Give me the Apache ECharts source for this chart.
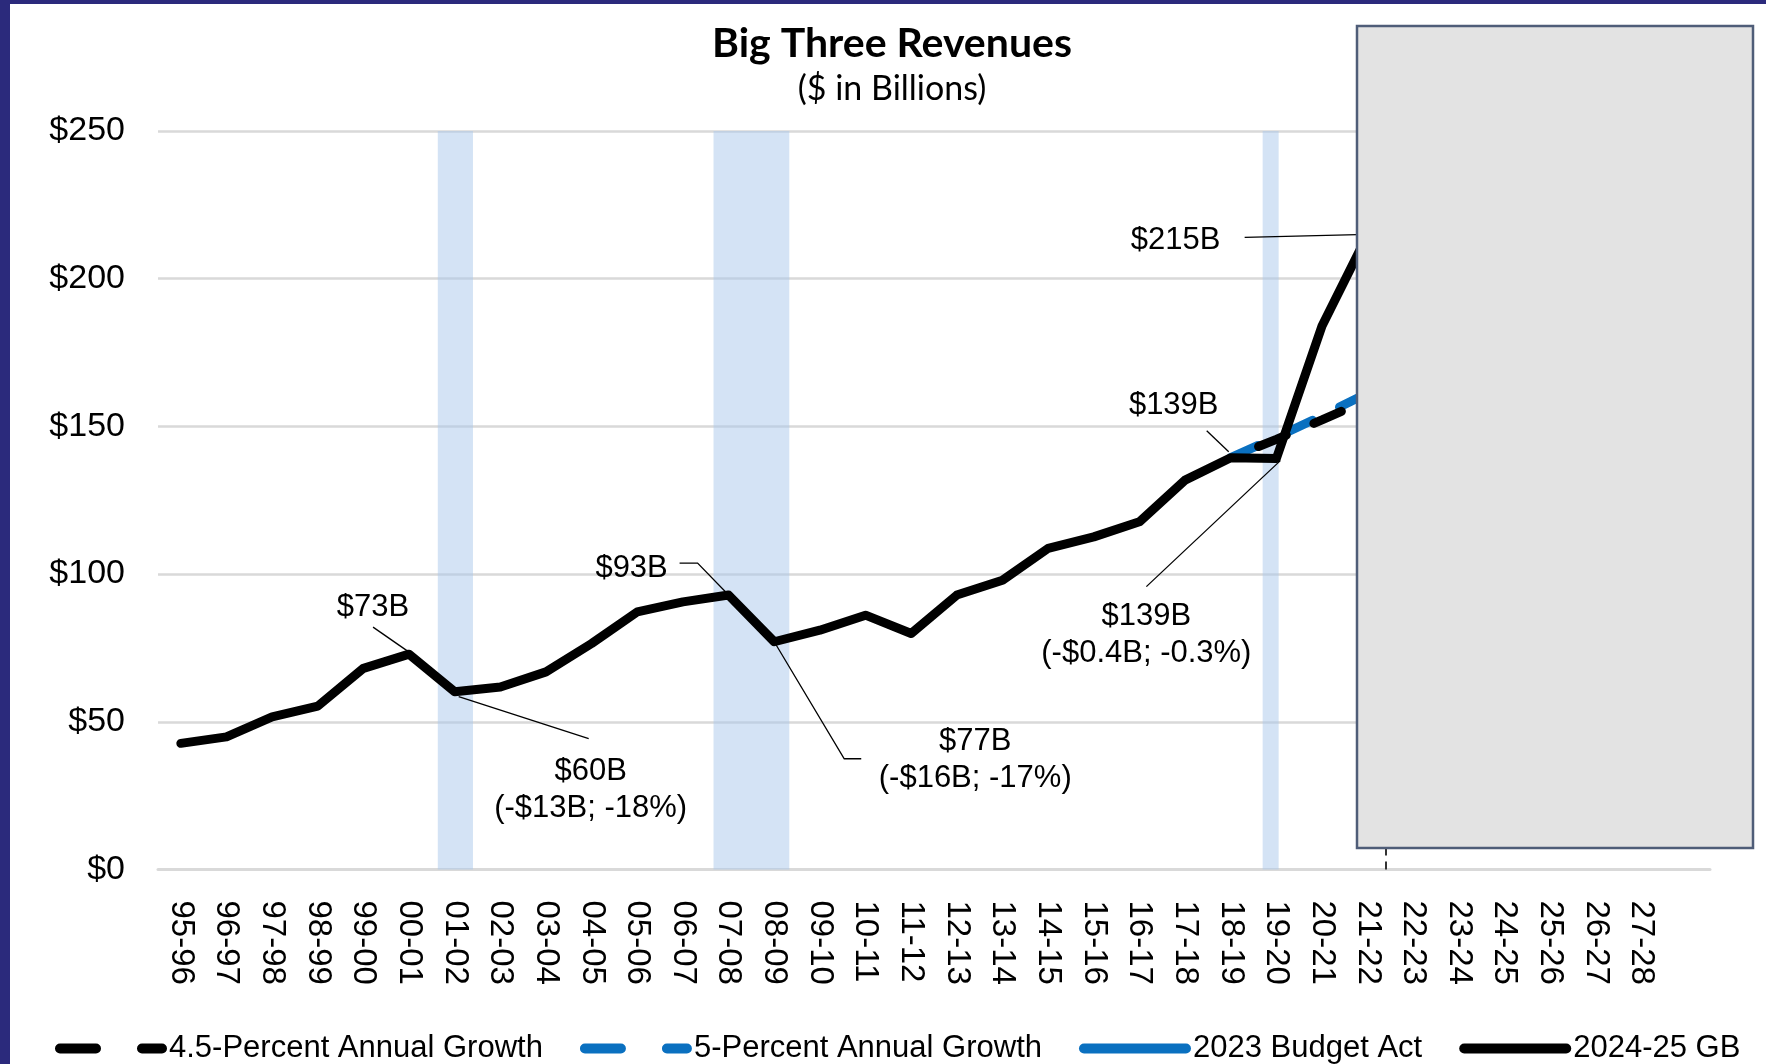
<!DOCTYPE html>
<html>
<head>
<meta charset="utf-8">
<title>Big Three Revenues</title>
<script src="https://cdn.jsdelivr.net/npm/echarts@6/dist/echarts.min.js"></script>
<style>
  html, body { margin: 0; padding: 0; background: #fff; }
  #chart { width: 1766px; height: 1064px; }
</style>
</head>
<body>
<div id="chart"></div>
<script>
// fiscal years on the x axis
const years = ['95-96', '96-97', '97-98', '98-99', '99-00', '00-01', '01-02', '02-03', '03-04',
  '04-05', '05-06', '06-07', '07-08', '08-09', '09-10', '10-11', '11-12', '12-13', '13-14',
  '14-15', '15-16', '16-17', '17-18', '18-19', '19-20', '20-21', '21-22', '22-23', '23-24',
  '24-25', '25-26', '26-27', '27-28'];

// Big Three revenues ($ in billions), 2024-25 GB line, visible part
const revenues = [42.7, 44.9, 51.7, 55.3, 68.1, 72.9, 60.2, 61.8, 66.9, 76.5, 87.2, 90.6,
  92.9, 77.1, 81.0, 86.1, 79.9, 92.9, 97.9, 108.7, 112.6, 117.7, 131.8, 139.4, 139.1, 184.0, 215.0];

// growth paths, starting at 18-19
const growthStart = '18-19';
const growth45 = [139.4, 145.6, 152.2, 159.0];
const growth5 = [139.4, 146.3, 153.6, 161.3];
// 2023 Budget Act is under the grey cover, nothing visible
const budgetAct = [];

// recession shading, in category index units (0 = 95-96)
const recessions = [[5.63, 6.40], [11.67, 13.33], [23.70, 24.05]];
// dashed marker between 21-22 and 22-23
const forecastLine = 26.4;

// callout text per year
const callouts = {
  '00-01': '$73B',
  '01-02': '$60B\n(-$13B; -18%)',
  '07-08': '$93B',
  '08-09': '$77B\n(-$16B; -17%)',
  '18-19': '$139B',
  '19-20': '$139B\n(-$0.4B; -0.3%)',
  '21-22': '$215B'
};
// where each callout sits relative to its point (px)
const calloutOffsets = {
  '00-01': [-36, -47],
  '01-02': [136, 98],
  '07-08': [-97, -27],
  '08-09': [201, 118],
  '18-19': [-57, -52],
  '19-20': [-130, 176],
  '21-22': [-192, 6]
};
// leader line paths relative to the point (px)
const leaderPaths = {
  '00-01': [[0, -2], [-36, -27]],
  '01-02': [[4, 5], [134, 47]],
  '07-08': [[0, 0], [-31, -32], [-49, -32]],
  '08-09': [[0, 0], [70, 117], [87, 117]],
  '18-19': [[-2, -6], [-24, -27]],
  '19-20': [[4, 2], [-130, 128]],
  '21-22': [[0, 0], [-123, 3]]
};

const axisYears = years.concat(['']);   // one empty slot at the right end

function fromYear(start, vals) {
  const out = axisYears.map(() => null);
  const i0 = years.indexOf(start);
  vals.forEach((v, k) => { out[i0 + k] = v; });
  return out;
}

const revenueData = revenues.map((v, i) => {
  const t = callouts[years[i]];
  return t ? { value: v, label: { show: true, formatter: t } } : v;
});

const font = 'Liberation Sans, Arial, sans-serif';
const blue = '#0a70c0';
const dashIcon = 'path://M5,0H41A5,5,0,0,1,41,10H5A5,5,0,0,1,5,0Z M87,0H107A5,5,0,0,1,107,10H87A5,5,0,0,1,87,0Z';
const solidIcon = 'path://M5,0H107A5,5,0,0,1,107,10H5A5,5,0,0,1,5,0Z';

const chart = echarts.init(document.getElementById('chart'));

chart.setOption({
  animation: false,
  backgroundColor: '#fff',
  textStyle: { fontFamily: font, color: '#000' },
  title: [{
    text: 'Big Three Revenues',
    left: 887, top: 18, textAlign: 'center',
    textStyle: { fontFamily: 'Lato', fontWeight: 'bold', fontSize: 41, color: '#000' }
  }, {
    text: '($ in Billions)',
    left: 887, top: 67, textAlign: 'center',
    textStyle: { fontFamily: 'Lato', fontWeight: 'normal', fontSize: 34, color: '#000' }
  }],
  grid: { left: 158, right: 56, top: 131, bottom: 194.5, containLabel: false },
  legend: {
    data: [
      { name: '4.5-Percent Annual Growth', icon: dashIcon },
      { name: '5-Percent Annual Growth', icon: dashIcon },
      { name: '2023 Budget Act', icon: solidIcon },
      { name: '2024-25 GB', icon: solidIcon }
    ],
    left: 55, top: 1033, padding: 0,
    itemWidth: 112, itemHeight: 10, itemGap: 37,
    textStyle: { fontFamily: font, fontSize: 31, color: '#000', padding: [0, 0, 0, -3] }
  },
  xAxis: [{
    type: 'category',
    data: axisYears,
    boundaryGap: true,
    axisTick: { show: false },
    axisLine: { lineStyle: { color: '#d9d9d9', width: 3 } },
    axisLabel: { interval: 0, rotate: -90, margin: 31, fontSize: 33, color: '#000', fontFamily: font }
  }, {
    type: 'value', min: -0.5, max: 33.5, show: false
  }],
  yAxis: {
    type: 'value', min: 0, max: 250, interval: 50,
    axisLine: { show: false }, axisTick: { show: false },
    splitLine: { lineStyle: { color: '#d9d9d9', width: 2.5 } },
    axisLabel: { formatter: '${value}', fontSize: 34, margin: 33, color: '#000', fontFamily: font }
  },
  series: [{
    name: 'shade', type: 'line', xAxisIndex: 1, data: [], silent: true,
    markArea: {
      silent: true,
      itemStyle: { color: 'rgba(170,200,235,0.5)' },
      data: recessions.map(r => [{ xAxis: r[0] }, { xAxis: r[1] }])
    },
    markLine: {
      silent: true, symbol: 'none',
      label: { show: false },
      lineStyle: { color: '#333', type: [8, 6], width: 2 },
      data: [{ xAxis: forecastLine }]
    }
  }, {
    name: '2023 Budget Act', type: 'line', data: fromYear(growthStart, budgetAct),
    showSymbol: false,
    lineStyle: { color: blue, width: 9 }, itemStyle: { color: blue }
  }, {
    name: '5-Percent Annual Growth', type: 'line', data: fromYear(growthStart, growth5),
    showSymbol: false, symbol: 'none',
    lineStyle: { color: blue, width: 9, type: [30, 30], cap: 'round' },
    itemStyle: { color: blue }
  }, {
    name: '4.5-Percent Annual Growth', type: 'line', data: fromYear(growthStart, growth45),
    showSymbol: false, symbol: 'none',
    lineStyle: { color: '#000', width: 9, type: [30, 30], dashOffset: 30, cap: 'round' },
    itemStyle: { color: '#000' }
  }, {
    name: '2024-25 GB', type: 'line', data: revenueData,
    symbol: 'circle', symbolSize: 1, showSymbol: true, showAllSymbol: true,
    itemStyle: { color: '#000' },
    lineStyle: { color: '#000', width: 9, join: 'round', cap: 'round' },
    emphasis: { disabled: true },
    label: { show: false, fontSize: 31, lineHeight: 37, color: '#000', fontFamily: font },
    labelLayout: function (p) {
      const off = calloutOffsets[years[p.dataIndex]];
      if (!off) return {};
      return {
        x: p.rect.x + p.rect.width / 2 + off[0],
        y: p.rect.y + p.rect.height / 2 + off[1],
        align: 'center', verticalAlign: 'middle'
      };
    },
    z: 5
  }]
});

// leader lines, anchored on the data points
const leaders = Object.keys(leaderPaths).map(y => {
  const i = years.indexOf(y);
  const p = chart.convertToPixel({ xAxisIndex: 0, yAxisIndex: 0 }, [y, revenues[i]]);
  return {
    type: 'polyline', z: 50, silent: true,
    shape: { points: leaderPaths[y].map(o => [p[0] + o[0], p[1] + o[1]]) },
    style: { stroke: '#000', lineWidth: 1.3, fill: null }
  };
});

chart.setOption({
  graphic: leaders.concat([
    { type: 'rect', z: 100, shape: { x: 1357, y: 26, width: 396, height: 822 },
      style: { fill: '#e3e3e3', stroke: '#4f5d78', lineWidth: 2.5 } },
    { type: 'rect', z: 100, shape: { x: 0, y: 0, width: 10, height: 1064 }, style: { fill: '#2b2a7c' } },
    { type: 'rect', z: 100, shape: { x: 0, y: 0, width: 1766, height: 4 }, style: { fill: '#2b2a7c' } }
  ])
});
</script>
</body>
</html>
